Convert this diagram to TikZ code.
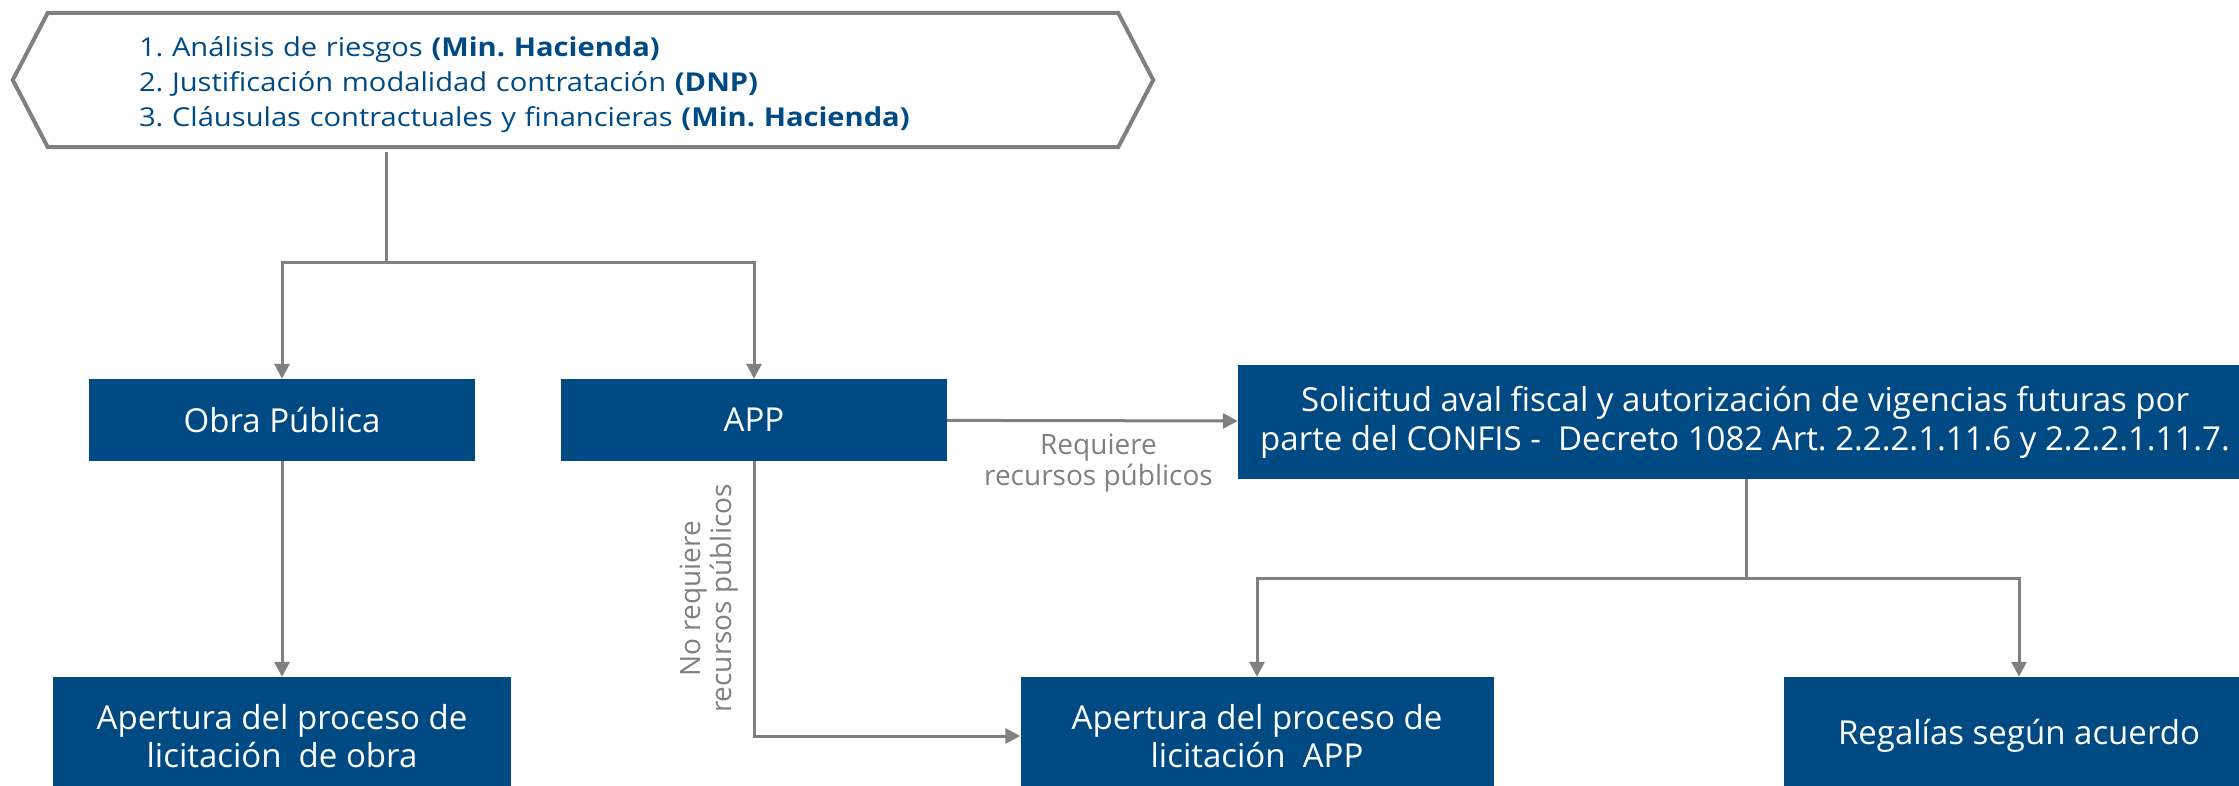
\documentclass[tikz,border=0pt]{standalone}
\usepackage{fontspec}
\setmainfont{Open Sans}
\newfontfamily\anchafont{Open Sans}[FakeStretch=1.12]
\usetikzlibrary{arrows.meta,calc,positioning}
\definecolor{azulgob}{HTML}{004A84}
\definecolor{gris}{HTML}{808080}
\frenchspacing

\begin{document}
\begin{tikzpicture}[
    x=1pt, y=-1pt,
    caja/.style={rectangle, fill=azulgob, text=white, align=center, inner sep=0pt, font=\fontsize{33}{38}\selectfont},
    linea/.style={draw=gris, line width=3pt},
    flecha/.style={linea, -{Triangle[length=15pt,width=15pt]}},
    etiqueta/.style={text=gris, align=center, inner sep=0pt, font=\fontsize{28}{31}\selectfont}
  ]
  \useasboundingbox (0,0) rectangle (2239,786);
  \clip (0,0) rectangle (2239,786);

  % Define requirement box
  \node[text=azulgob, align=left, text width=888pt, inner xsep=91pt, inner ysep=0pt, minimum height=134pt,
        font=\anchafont\fontsize{26}{35}\selectfont] (pasos) at (583,85)
    {1. Análisis de riesgos \textbf{(Min. Hacienda)}\\
     2. Justificación modalidad contratación \textbf{(DNP)}\\
     3. Cláusulas contractuales y financieras \textbf{(Min. Hacienda)}};
  \draw[gris, line width=4pt] ($(pasos.west)+(-35,-5)$) -- ([yshift=5pt]pasos.north west) -- ([yshift=5pt]pasos.north east)
    -- ($(pasos.east)+(35,-5)$) -- ([yshift=5pt]pasos.south east) -- ([yshift=5pt]pasos.south west) -- cycle;

  % Define process nodes
  \node[caja, minimum width=386pt, minimum height=82pt] (obra) at (282,420) {Obra Pública};
  \node[caja, minimum width=386pt, minimum height=82pt, right of=obra, node distance=472pt] (app) {APP};
  \node[caja, minimum width=1014pt, minimum height=114pt, font=\fontsize{33}{39}\selectfont] (confis) at (1745,422)
    {Solicitud aval fiscal y autorización de vigencias futuras por\\
     parte del CONFIS -~ Decreto 1082 Art. 2.2.2.1.11.6 y 2.2.2.1.11.7.};
  \node[caja, minimum width=458pt, minimum height=118pt, below of=obra, node distance=316pt] (apobra)
    {Apertura del proceso de\\licitación~ de obra};
  \node[caja, minimum width=473pt, minimum height=118pt] (apapp) at (1257,736)
    {Apertura del proceso de\\licitación~ APP};
  \node[caja, minimum width=470pt, minimum height=118pt] (regalias) at (2019,736) {Regalías según acuerdo};

  % Draw arrows
  \coordinate (div1) at (386,263);
  \draw[linea] (pasos.south -| div1) -- (div1);
  \draw[flecha] (div1) -| (obra);
  \draw[flecha] (div1) -| (app);
  \draw[flecha] (obra) -- (apobra);
  \draw[flecha] (app) -- node[midway, below=12pt, xshift=6pt, etiqueta] {Requiere\\recursos públicos} (confis);
  \draw[flecha] (app.south) |- node[pos=0.25, etiqueta, rotate=90, anchor=south, outer sep=16pt]
    {No requiere\\recursos públicos} (apapp.west);

  \coordinate (div2) at (1746,578);
  \draw[linea] (confis.south -| div2) -- (div2);
  \draw[flecha] (div2) -| (apapp);
  \draw[flecha] (div2) -| (regalias);
\end{tikzpicture}
\end{document}
